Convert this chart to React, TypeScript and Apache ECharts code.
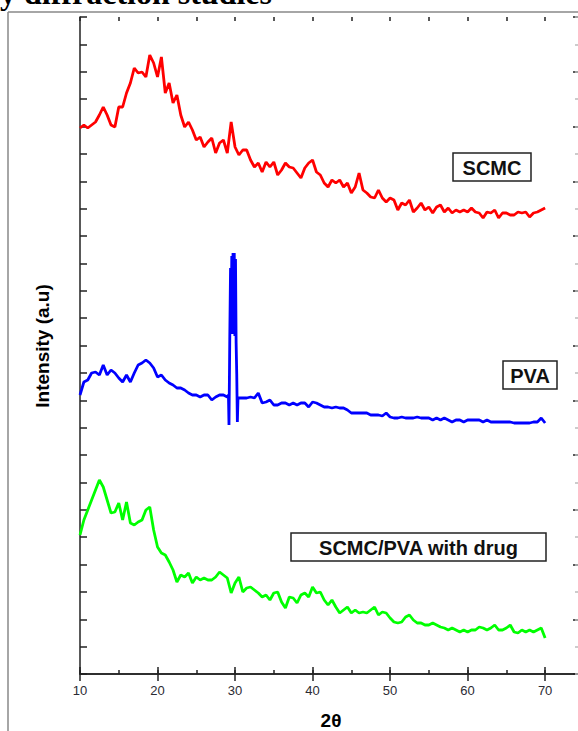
import React, { useEffect, useRef } from "react";
import * as echarts from "echarts";

// 2θ grid for the SCMC and SCMC/PVA-with-drug scans
const THETA = [
  10, 10.5, 11, 11.5, 12, 12.5, 13, 13.5, 14, 14.5,
  15, 15.5, 16, 16.5, 17, 17.5, 18, 18.5, 19, 19.5,
  20, 20.5, 21, 21.5, 22, 22.5, 23, 23.5, 24, 24.5,
  25, 25.5, 26, 26.5, 27, 27.5, 28, 28.5, 29, 29.5,
  30, 30.5, 31, 31.5, 32, 32.5, 33, 33.5, 34, 34.5,
  35, 35.5, 36, 36.5, 37, 37.5, 38, 38.5, 39, 39.5,
  40, 40.5, 41, 41.5, 42, 42.5, 43, 43.5, 44, 44.5,
  45, 45.5, 46, 46.5, 47, 47.5, 48, 48.5, 49, 49.5,
  50, 50.5, 51, 51.5, 52, 52.5, 53, 53.5, 54, 54.5,
  55, 55.5, 56, 56.5, 57, 57.5, 58, 58.5, 59, 59.5,
  60, 60.5, 61, 61.5, 62, 62.5, 63, 63.5, 64, 64.5,
  65, 65.5, 66, 66.5, 67, 67.5, 68, 68.5, 69, 69.5,
  70,
];

const SCMC = [
  546, 549, 546, 549, 552, 559, 567, 559, 549, 547,
  567, 567, 581, 591, 606, 601, 602, 597, 619, 611,
  597, 617, 581, 591, 571, 579, 559, 547, 552, 544,
  534, 537, 527, 532, 536, 521, 531, 534, 521, 552,
  527, 519, 524, 524, 514, 507, 511, 502, 512, 507,
  512, 499, 504, 511, 507, 506, 501, 496, 506, 511,
  514, 502, 499, 491, 487, 494, 491, 494, 487, 491,
  481, 487, 501, 484, 481, 477, 476, 484, 476, 472,
  476, 474, 464, 471, 469, 474, 462, 466, 471, 464,
  467, 461, 467, 469, 462, 466, 461, 464, 462, 464,
  462, 466, 462, 461, 456, 462, 461, 464, 456, 461,
  461, 459, 459, 462, 461, 462, 457, 461, 462, 464,
  466,
];

const DRUG = [
  139, 154, 164, 174, 184, 194, 187, 174, 161, 162,
  171, 154, 172, 151, 149, 152, 154, 164, 167, 144,
  127, 121, 119, 112, 104, 92, 99, 97, 101, 91,
  97, 94, 96, 94, 94, 97, 102, 99, 96, 81,
  91, 97, 82, 86, 87, 84, 81, 77, 79, 74,
  81, 82, 72, 66, 77, 76, 71, 79, 81, 77,
  87, 81, 82, 74, 69, 74, 67, 61, 64, 67,
  61, 64, 61, 62, 61, 64, 67, 59, 62, 61,
  56, 52, 51, 52, 57, 59, 54, 51, 51, 49,
  49, 51, 49, 47, 46, 44, 46, 44, 42, 44,
  42, 44, 44, 47, 46, 44, 46, 49, 44, 44,
  46, 49, 42, 41, 44, 42, 44, 42, 44, 46,
  36,
];

// PVA scan (finer sampling around the sharp reflection near 30°)
const PVA_THETA = [
  10, 10.5, 11, 11.5, 12, 12.5, 13, 13.5, 14, 14.5,
  15, 15.5, 16, 16.5, 17, 17.5, 18, 18.5, 19, 19.5,
  20, 20.5, 21, 21.5, 22, 22.5, 23, 23.5, 24, 24.5,
  25, 25.5, 26, 26.5, 27, 27.5, 28, 28.5, 29,
  29.15, 29.22, 29.32, 29.42, 29.5, 29.58, 29.66, 29.74, 29.82, 29.9,
  29.98, 30.06, 30.14, 30.22, 30.3, 30.38,
  30.5, 31, 31.5, 32, 32.5, 33, 33.5, 34, 34.5,
  35, 35.5, 36, 36.5, 37, 37.5, 38, 38.5, 39, 39.5,
  40, 40.5, 41, 41.5, 42, 42.5, 43, 43.5, 44, 44.5,
  45, 45.5, 46, 46.5, 47, 47.5, 48, 48.5, 49, 49.5,
  50, 50.5, 51, 51.5, 52, 52.5, 53, 53.5, 54, 54.5,
  55, 55.5, 56, 56.5, 57, 57.5, 58, 58.5, 59, 59.5,
  60, 60.5, 61, 61.5, 62, 62.5, 63, 63.5, 64, 64.5,
  65, 65.5, 66, 66.5, 67, 67.5, 68, 68.5, 69, 69.5,
  70,
];

const PVA = [
  279, 292, 294, 301, 302, 299, 309, 299, 304, 301,
  296, 292, 299, 292, 301, 309, 311, 314, 311, 306,
  297, 299, 294, 291, 289, 286, 286, 284, 281, 279,
  279, 277, 279, 279, 274, 277, 279, 279, 277,
  279, 249, 335, 406, 345, 418, 340, 421, 350, 421,
  338, 415, 331, 300, 252, 276,
  276, 276, 276, 277, 276, 281, 271, 272, 274,
  269, 269, 271, 271, 269, 271, 269, 271, 271, 267,
  272, 271, 269, 267, 267, 266, 267, 266, 266, 264,
  261, 261, 261, 261, 261, 259, 259, 259, 258, 261,
  257, 256, 256, 257, 256, 256, 256, 257, 256, 256,
  256, 254, 256, 254, 256, 254, 252, 254, 254, 252,
  254, 254, 254, 254, 252, 254, 252, 252, 252, 252,
  252, 252, 251, 251, 251, 251, 251, 252, 252, 256,
  251,
];

const X_LABELS = [10, 20, 30, 40, 50, 60, 70];
const SERIES_NAMES = ["SCMC", "PVA", "SCMC/PVA with drug"];

const pair = (xs: number[], ys: number[]) => xs.map((x, i) => [x, ys[i]]);

const SANS = "'Liberation Sans', Arial, sans-serif";

export default function App() {
  const ref = useRef<HTMLDivElement>(null);
  useEffect(() => {
    if (!ref.current) return;
    const chart = echarts.init(ref.current, null, { renderer: "svg" });
    const xMin = 10;
    const xMax = 74.5;
    const yMax = 657;
    const axisColor = "#222";
    const baseX = {
      type: "value" as const,
      min: xMin,
      max: xMax,
      splitLine: { show: false },
      axisLabel: { show: false },
    };
    const baseY = {
      type: "value" as const,
      min: 0,
      max: yMax,
      splitLine: { show: false },
      axisLabel: { show: false },
    };
    const boxes = [
      { name: SERIES_NAMES[0], x: 453, y: 153, w: 78, h: 28 },
      { name: SERIES_NAMES[1], x: 503, y: 361, w: 54, h: 28 },
      { name: SERIES_NAMES[2], x: 291, y: 533, w: 255, h: 28 },
    ];
    chart.setOption({
      animation: false,
      backgroundColor: "#fff",
      grid: { left: 80, top: 17, right: 20, bottom: 57 },
      xAxis: [
        {
          ...baseX,
          position: "bottom",
          interval: 10,
          axisLine: { show: true, lineStyle: { color: axisColor, width: 1.5 } },
          axisTick: { show: true, inside: true, length: 7, lineStyle: { color: axisColor, width: 1.5 } },
          axisLabel: {
            show: true,
            margin: 10,
            color: "#2b2b33",
            fontSize: 13,
            fontFamily: SANS,
            showMaxLabel: false,
            formatter: (v: number) => (X_LABELS.includes(v) ? String(v) : ""),
          },
        },
        {
          ...baseX,
          position: "bottom",
          interval: 5,
          axisLine: { show: false },
          axisTick: { show: true, inside: true, length: 4, lineStyle: { color: axisColor, width: 1.5 } },
        },
        {
          ...baseX,
          position: "top",
          interval: 10,
          axisLine: { show: true, lineStyle: { color: axisColor, width: 1.5 } },
          axisTick: { show: true, inside: true, length: 7, lineStyle: { color: axisColor, width: 1.5 } },
        },
        {
          ...baseX,
          position: "top",
          interval: 5,
          axisLine: { show: false },
          axisTick: { show: true, inside: true, length: 4, lineStyle: { color: axisColor, width: 1.5 } },
        },
      ],
      yAxis: [
        {
          ...baseY,
          position: "left",
          interval: 27.375,
          axisLine: { show: true, lineStyle: { color: axisColor, width: 1.5 } },
          axisTick: { show: true, inside: true, length: 7, lineStyle: { color: axisColor, width: 1.5 } },
        },
        {
          ...baseY,
          position: "right",
          interval: 54.75,
          axisLine: { show: true, lineStyle: { color: axisColor, width: 1.5 } },
          axisTick: { show: true, inside: true, length: 7, lineStyle: { color: axisColor, width: 1.5 } },
        },
        {
          ...baseY,
          position: "right",
          interval: 27.375,
          axisLine: { show: false },
          axisTick: { show: true, inside: true, length: 5, lineStyle: { color: "#bbb", width: 1.5 } },
        },
      ],
      series: [
        {
          name: SERIES_NAMES[0],
          type: "line",
          data: pair(THETA, SCMC),
          showSymbol: false,
          lineStyle: { color: "#ff0000", width: 2.8 },
          itemStyle: { color: "#ff0000" },
        },
        {
          name: SERIES_NAMES[1],
          type: "line",
          data: pair(PVA_THETA, PVA),
          showSymbol: false,
          lineStyle: { color: "#0000ff", width: 2.8 },
          itemStyle: { color: "#0000ff" },
        },
        {
          name: SERIES_NAMES[2],
          type: "line",
          data: pair(THETA, DRUG),
          showSymbol: false,
          lineStyle: { color: "#00ff00", width: 2.8 },
          itemStyle: { color: "#00ff00" },
        },
      ],
      graphic: [
        {
          type: "line",
          shape: { x1: 8, y1: 12, x2: 8, y2: 731 },
          style: { stroke: "#888", lineWidth: 1.5 },
        },
        {
          type: "line",
          shape: { x1: 8, y1: 12, x2: 600, y2: 12 },
          style: { stroke: "#888", lineWidth: 1.5 },
        },
        {
          type: "text",
          x: 0,
          y: -7,
          style: {
            text: "y diffraction studies",
            font: "bold 32px 'Liberation Serif', 'Times New Roman', serif",
            fill: "#000",
            textAlign: "left",
            textVerticalAlign: "middle",
          },
        },
        {
          type: "text",
          x: 42,
          y: 346,
          rotation: Math.PI / 2,
          style: {
            text: "Intensity (a.u)",
            font: `bold 19px ${SANS}`,
            fill: "#000",
            textAlign: "center",
            textVerticalAlign: "middle",
          },
        },
        {
          type: "text",
          x: 331,
          y: 720,
          style: {
            text: "2θ",
            font: `bold 19px ${SANS}`,
            fill: "#000",
            textAlign: "center",
            textVerticalAlign: "middle",
          },
        },
        ...boxes.flatMap((b) => [
          {
            type: "rect",
            shape: { x: b.x, y: b.y, width: b.w, height: b.h },
            style: { fill: "#fff", stroke: "#222", lineWidth: 1.5 },
          },
          {
            type: "text",
            x: b.x + b.w / 2,
            y: b.y + b.h / 2 + 1,
            style: {
              text: b.name,
              font: `bold 20px ${SANS}`,
              fill: "#111",
              textAlign: "center",
              textVerticalAlign: "middle",
            },
          },
        ]),
      ],
    });
    return () => chart.dispose();
  }, []);
  return (
    <div
      style={{
        position: "fixed",
        left: 0,
        top: 0,
        width: 578,
        height: 731,
        overflow: "hidden",
        background: "#fff",
      }}
    >
      <div ref={ref} style={{ width: 600, height: 731 }} />
    </div>
  );
}
